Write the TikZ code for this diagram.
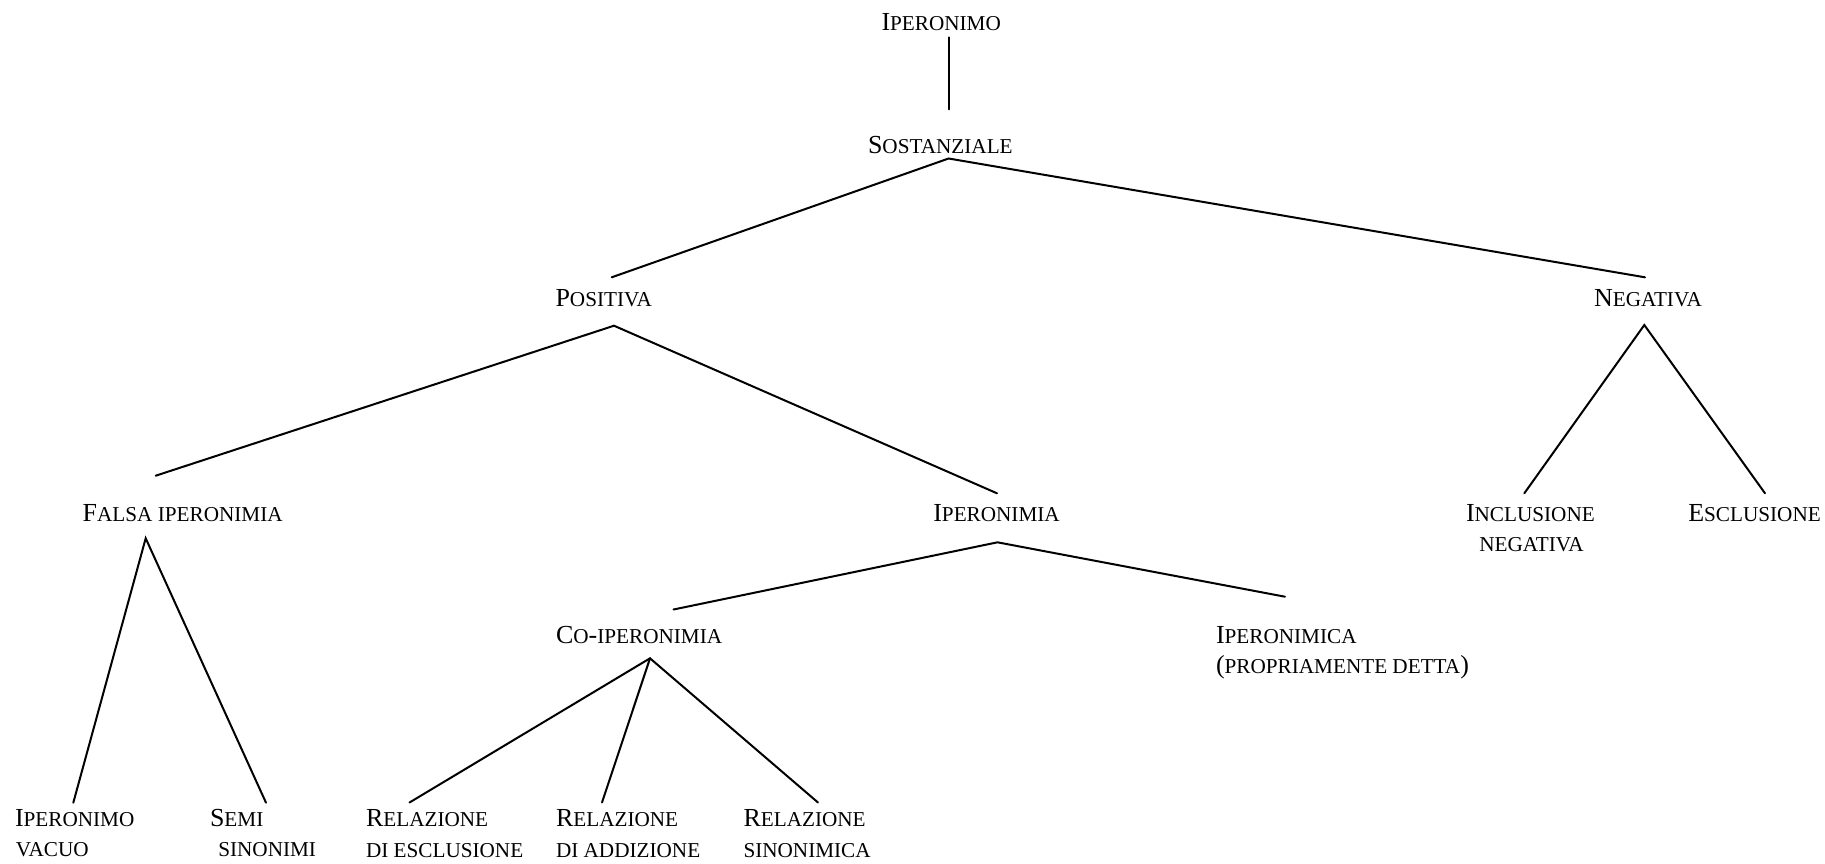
\documentclass[tikz,border=0pt]{standalone}
\usepackage{fontspec}
\setmainfont{Liberation Serif}
% small capitals built from the upright capitals at a reduced size
\newcommand{\sm}[1]{{\fontsize{10.6}{12}\selectfont #1}}
\begin{document}
\begin{tikzpicture}[x=0.5pt,y=-0.5pt,
  lbl/.style={anchor=base west,inner sep=0pt,outer sep=0pt,font=\fontsize{13}{15}\selectfont},
  branch/.style={line width=1pt,line cap=round}]
\useasboundingbox (0,0) rectangle (1825,863);

% labels
\node[lbl] (iperonimo) at (881.5,30) {I\sm{PERONIMO}};
\node[lbl] (sostanziale) at (868,153) {S\sm{OSTANZIALE}};
\node[lbl] (positiva) at (555.5,306) {P\sm{OSITIVA}};
\node[lbl] (negativa) at (1594,306) {N\sm{EGATIVA}};
\node[lbl] (falsa) at (82.7,521.7) {F\sm{ALSA IPERONIMIA}};
\node[lbl] (iperonimia) at (933.3,521.5) {I\sm{PERONIMIA}};
\node[lbl] (inclusione) at (1466,521.7) {I\sm{NCLUSIONE}};
\node[lbl] (inclusione2) at (1479.3,551) {\sm{NEGATIVA}};
\node[lbl] (esclusione) at (1688.3,521.7) {E\sm{SCLUSIONE}};
\node[lbl] (coiper) at (556,643.3) {C\sm{O}-\sm{IPERONIMIA}};
\node[lbl] (iperonimica) at (1216,643.3) {I\sm{PERONIMICA}};
\node[lbl] (iperonimica2) at (1216,673.3) {(\sm{PROPRIAMENTE DETTA})};
\node[lbl] (vacuo) at (15,826.7) {I\sm{PERONIMO}};
\node[lbl] (vacuo2) at (16,856.7) {\sm{VACUO}};
\node[lbl] (semi) at (210,826.7) {S\sm{EMI}};
\node[lbl] (semi2) at (218.3,856.7) {\sm{SINONIMI}};
\node[lbl] (relescl) at (366,826.7) {R\sm{ELAZIONE}};
\node[lbl] (relescl2) at (366,857.3) {\sm{DI ESCLUSIONE}};
\node[lbl] (reladd) at (556,826.7) {R\sm{ELAZIONE}};
\node[lbl] (reladd2) at (556,857.3) {\sm{DI ADDIZIONE}};
\node[lbl] (relsin) at (743.5,826.7) {R\sm{ELAZIONE}};
\node[lbl] (relsin2) at (743.5,857.3) {\sm{SINONIMICA}};

% branch end points: "-out" below a parent, "-in" above a child
\coordinate (iperonimo-out) at (948.5,37.3);
\coordinate (sostanziale-in) at (948.5,109.3);
\coordinate (sostanziale-out) at (948.6,158.5);
\coordinate (positiva-in) at (611.7,277.3);
\coordinate (negativa-in) at (1645,277.3);
\coordinate (positiva-out) at (614,325.7);
\coordinate (falsa-in) at (155.7,475.7);
\coordinate (iperonimia-in) at (997,493.3);
\coordinate (negativa-out) at (1644.3,325);
\coordinate (inclusione-in) at (1524.3,493.3);
\coordinate (esclusione-in) at (1765,493.3);
\coordinate (falsa-out) at (145.7,538.3);
\coordinate (vacuo-in) at (73.3,802.7);
\coordinate (semi-in) at (266,802.7);
\coordinate (iperonimia-out) at (997.5,542.3);
\coordinate (coiper-in) at (673.5,609.5);
\coordinate (iperonimica-in) at (1285,596.7);
\coordinate (coiper-out) at (650,658.3);
\coordinate (relescl-in) at (409.5,802.5);
\coordinate (reladd-in) at (602,802.5);
\coordinate (relsin-in) at (818,802.5);

% branches
\draw[branch] (iperonimo-out) -- (sostanziale-in);
\draw[branch] (positiva-in) -- (sostanziale-out) -- (negativa-in);
\draw[branch] (falsa-in) -- (positiva-out) -- (iperonimia-in);
\draw[branch] (inclusione-in) -- (negativa-out) -- (esclusione-in);
\draw[branch] (vacuo-in) -- (falsa-out) -- (semi-in);
\draw[branch] (coiper-in) -- (iperonimia-out) -- (iperonimica-in);
\draw[branch] (relescl-in) -- (coiper-out) -- (relsin-in);
\draw[branch] (coiper-out) -- (reladd-in);
\end{tikzpicture}
\end{document}
